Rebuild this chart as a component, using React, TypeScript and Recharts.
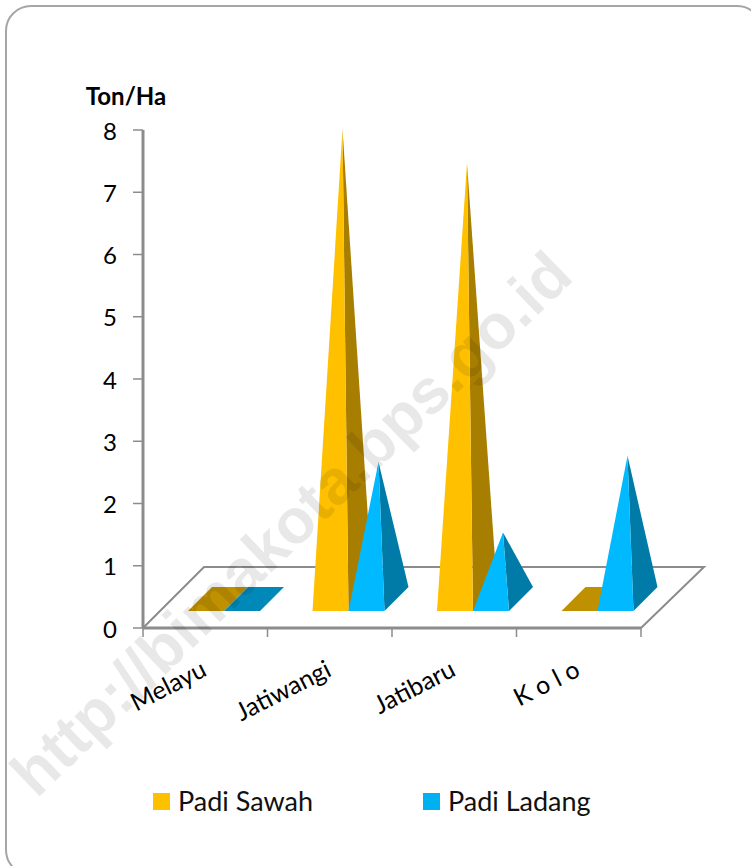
import React from 'react';
import { BarChart, Bar, XAxis, YAxis, Legend, ReferenceArea } from 'recharts';

const categories = ['Melayu', 'Jatiwangi', 'Jatibaru', 'K o l o'];
const padiSawah = [0, 7.55, 7.0, 0];
const padiLadang = [0, 2.2, 1.07, 2.3];
const yTicks = [0, 1, 2, 3, 4, 5, 6, 7, 8];

const chartData = categories.map((name, i) => ({
  name,
  sawah: padiSawah[i],
  ladang: padiLadang[i],
}));

const FONT = 'Lato, sans-serif';
const AXIS_COLOR = '#8c8c8c';
const FLOOR_DEPTH = 61;
const BAR_DEPTH = 24;
const BAND_WIDTH = 498 / categories.length;

// Pyramid drawn in fake 3D, sitting on the floor plane
function Pyramid(props: any) {
  const { x, y, width, height, fill, side, flat } = props;
  const left = x + 19;
  const right = left + width;
  const front = y + height - 17;
  const apexX = left + width / 2 + BAR_DEPTH / 2;
  const apexY = front - BAR_DEPTH / 2 - height;
  if (!height) {
    const pts = `${left},${front} ${right},${front} ${right + BAR_DEPTH},${front - BAR_DEPTH} ${left + BAR_DEPTH},${front - BAR_DEPTH}`;
    return <polygon points={pts} fill={flat} />;
  }
  return (
    <g>
      <polygon points={`${right},${front} ${right + BAR_DEPTH},${front - BAR_DEPTH} ${apexX},${apexY}`} fill={side} />
      <polygon points={`${left},${front} ${right},${front} ${apexX},${apexY}`} fill={fill} />
    </g>
  );
}

function Floor(props: any) {
  const { x, y, width, height } = props;
  const bottom = y + height;
  const pts = [
    [x, bottom],
    [x + FLOOR_DEPTH, bottom - FLOOR_DEPTH],
    [x + width + FLOOR_DEPTH + 2, bottom - FLOOR_DEPTH],
    [x + width, bottom],
  ];
  return <polyline points={pts.map((p) => p.join(',')).join(' ')} fill="none" stroke={AXIS_COLOR} strokeWidth={2} />;
}

function CategoryTick(props: any) {
  const { x, index, payload } = props;
  const top = 628;
  const edge = x - BAND_WIDTH / 2;
  const ax = x + 3;
  const ay = top + 47;
  return (
    <g>
      <line x1={edge} x2={edge} y1={top} y2={top + 9} stroke={AXIS_COLOR} strokeWidth={1.5} />
      {index === categories.length - 1 && (
        <line x1={edge + BAND_WIDTH} x2={edge + BAND_WIDTH} y1={top} y2={top + 9} stroke={AXIS_COLOR} strokeWidth={1.5} />
      )}
      <text
        x={ax}
        y={ay}
        textAnchor="end"
        transform={`rotate(-27 ${ax} ${ay})`}
        fontFamily={FONT}
        fontSize={25}
        fill="#000"
      >
        {payload.value}
      </text>
    </g>
  );
}

function LegendRow({ payload }: any) {
  return (
    <div style={{ position: 'relative', height: 30, fontFamily: FONT, fontSize: 27, color: '#111' }}>
      {(payload || []).map((entry: any, i: number) => (
        <div key={entry.value} style={{ position: 'absolute', left: 153 + i * 270, top: 0, whiteSpace: 'nowrap' }}>
          <span style={{ position: 'absolute', left: 0, top: 9, width: 17, height: 17, background: i === 0 ? '#FFC000' : '#00B0F0' }} />
          <span style={{ position: 'absolute', left: 25, top: 0, lineHeight: '34px' }}>{entry.value}</span>
        </div>
      ))}
    </div>
  );
}

export default function App() {
  return (
    <div style={{ position: 'absolute', left: 0, top: 0, width: 751, height: 866, overflow: 'hidden', background: '#fff' }}>
      {/* card runs past the right and bottom of the picture */}
      <div
        style={{
          position: 'absolute',
          left: 5,
          top: 5,
          width: 754,
          height: 867,
          border: '2px solid #a6a6a6',
          borderRadius: 26,
        }}
      />
      <BarChart
        width={751}
        height={866}
        data={chartData}
        barSize={36}
        barGap={0}
        margin={{ top: 130, right: 110, bottom: 178, left: 83 }}
        style={{ position: 'absolute', left: 0, top: 0 }}
      >
        <XAxis
          dataKey="name"
          height={60}
          tickLine={false}
          interval={0}
          axisLine={{ stroke: AXIS_COLOR, strokeWidth: 3 }}
          tick={<CategoryTick />}
        />
        <YAxis
          width={60}
          domain={[0, 8]}
          ticks={yTicks}
          interval={0}
          tickSize={10}
          tickMargin={16}
          axisLine={{ stroke: AXIS_COLOR, strokeWidth: 3 }}
          tickLine={{ stroke: AXIS_COLOR, strokeWidth: 1.5 }}
          tick={{ fill: '#000', fontSize: 24, fontFamily: FONT, dy: 1 }}
          label={{
            value: 'Ton/Ha',
            position: 'top',
            dx: 13,
            dy: -20,
            style: { fill: '#000', fontSize: 24, fontWeight: 700, fontFamily: FONT },
          }}
        />
        <ReferenceArea y1={0} y2={1} shape={<Floor />} ifOverflow="visible" />
        <Bar
          dataKey="sawah"
          name="Padi Sawah"
          fill="#FFC000"
          isAnimationActive={false}
          shape={(p: any) => <Pyramid {...p} side="#A87E00" flat="#BF9000" />}
        />
        <Bar
          dataKey="ladang"
          name="Padi Ladang"
          fill="#00B9FF"
          isAnimationActive={false}
          shape={(p: any) => <Pyramid {...p} side="#007BA7" flat="#0088B8" />}
        />
        <Legend
          verticalAlign="middle"
          itemSorter={null}
          content={<LegendRow />}
          wrapperStyle={{ left: 0, top: 784, width: 751 }}
        />
      </BarChart>
      <svg width={751} height={866} style={{ position: 'absolute', left: 0, top: 0, pointerEvents: 'none' }}>
        <text
          x={306}
          y={539}
          textAnchor="middle"
          transform="rotate(-44 306 539)"
          fontFamily="'Liberation Sans', sans-serif"
          fontWeight={700}
          fontSize={63}
          fill="rgba(0,0,0,0.09)"
        >
          http://bimakota.bps.go.id
        </text>
      </svg>
    </div>
  );
}
